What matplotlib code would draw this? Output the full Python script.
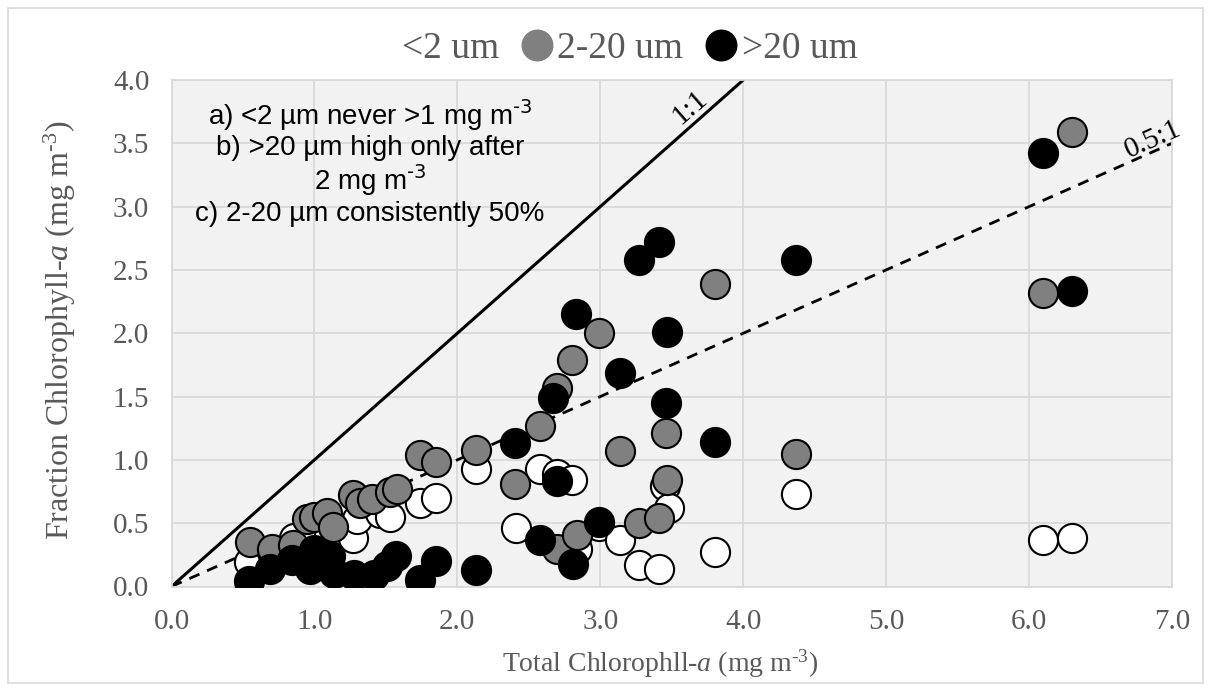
import matplotlib
matplotlib.use("Agg")
import matplotlib.pyplot as plt
from matplotlib.lines import Line2D
from matplotlib.patches import Rectangle

plt.rcParams["font.family"] = ["Liberation Serif", "DejaVu Serif"]
plt.rcParams["mathtext.fontset"] = "custom"
plt.rcParams["mathtext.rm"] = "Liberation Serif"
plt.rcParams["mathtext.it"] = "Liberation Serif:italic"

# <2 um fraction
x_small = [0.54, 0.70, 0.86, 1.00, 1.10, 1.27, 1.30, 1.46, 1.53, 1.74, 1.85, 2.13, 2.41,
           2.58, 2.70, 2.80, 2.84, 2.99, 3.14, 3.27, 3.41, 3.45, 3.48, 3.80, 4.37, 6.10, 6.30]
y_small = [0.19, 0.27, 0.38, 0.35, 0.40, 0.38, 0.53, 0.58, 0.55, 0.66, 0.70, 0.93, 0.46,
           0.93, 0.89, 0.84, 0.30, 0.48, 0.37, 0.17, 0.14, 0.79, 0.62, 0.27, 0.73, 0.37, 0.38]

# 2-20 um fraction
x_mid = [0.55, 0.70, 0.85, 0.95, 1.00, 1.09, 1.13, 1.27, 1.32, 1.40, 1.53, 1.58, 1.74, 1.85,
         2.13, 2.40, 2.58, 2.70, 2.70, 2.80, 2.84, 2.99, 3.14, 3.27, 3.41, 3.46, 3.47, 3.80,
         4.37, 6.10, 6.30]
y_mid = [0.35, 0.30, 0.33, 0.53, 0.55, 0.58, 0.47, 0.72, 0.66, 0.69, 0.75, 0.77, 1.04, 0.98,
         1.08, 0.81, 1.27, 1.57, 0.30, 1.79, 0.41, 2.00, 1.07, 0.50, 0.54, 1.21, 0.84, 2.39,
         1.05, 2.32, 3.59]

# >20 um fraction
x_big = [0.54, 0.69, 0.84, 1.00, 0.97, 1.11, 1.14, 1.28, 1.42, 1.51, 1.57, 1.74, 1.85, 2.13,
         2.40, 2.58, 2.67, 2.70, 2.81, 2.83, 2.99, 3.14, 3.27, 3.41, 3.46, 3.47, 3.80, 4.37,
         6.10, 6.30]
y_big = [0.04, 0.14, 0.21, 0.29, 0.14, 0.24, 0.11, 0.09, 0.09, 0.16, 0.24, 0.05, 0.20, 0.13,
         1.13, 0.37, 1.49, 0.83, 0.18, 2.15, 0.51, 1.69, 2.58, 2.72, 1.45, 2.01, 1.14, 2.58,
         3.42, 2.33]

notes = ["a) <2 µm never >1 mg m$^{\u2010 3}$",
         "b) >20 µm high only after",
         "2 mg m$^{\u2010 3}$",
         "c) 2-20 µm consistently 50%"]

W, H = 1211, 691
L, R, T, B = 171.5, 1172, 80, 586.5
fig = plt.figure(figsize=(W / 100, H / 100), dpi=100)
ax = fig.add_axes([L / W, 1 - B / H, (R - L) / W, (B - T) / H])
ax.set_facecolor("#f2f2f2")
fig.patches.append(Rectangle((8 / W, 8 / H), (W - 16) / W, (H - 16) / H,
                             transform=fig.transFigure, fill=False,
                             edgecolor="#d9d9d9", linewidth=1.2))

ax.set_xlim(0, 7)
ax.set_ylim(0, 4)
ax.set_xticks(range(0, 8))
ax.set_yticks([i * 0.5 for i in range(9)])
ax.set_xticklabels([f"{v:.1f}" for v in range(0, 8)])
ax.set_yticklabels([f"{i * 0.5:.1f}" for i in range(9)])
ax.tick_params(length=0, labelsize=21, labelcolor="#595959", pad=16)
ax.grid(True, color="#d9d9d9", linewidth=1.3)
ax.set_axisbelow(True)
for s in ax.spines.values():
    s.set_color("#d9d9d9")
    s.set_linewidth(1.3)

# reference lines
ax.plot([0, 4], [0, 4], color="black", linewidth=2.2, zorder=2)
ax.plot([0, 7], [0, 3.5], color="black", linewidth=2.0, linestyle=(0, (4, 3)), zorder=2)
ax.text(3.63, 3.78, "1:1", fontsize=21, rotation=41, ha="center", va="center", zorder=5)
ax.text(6.87, 3.53, "0.5:1", fontsize=21, rotation=24, ha="center", va="center",
        clip_on=False, zorder=5)

ms = 440
ax.scatter(x_small, y_small, s=ms, c="white", edgecolors="black", linewidths=1.5, zorder=3)
ax.scatter(x_mid, y_mid, s=ms, c="#808080", edgecolors="black", linewidths=1.5, zorder=3)
ax.scatter(x_big, y_big, s=ms, c="black", edgecolors="black", linewidths=1.5, zorder=3)

note_y = [115, 148, 180, 214]
for line, py in zip(notes, note_y):
    ax.text((370 - L) / ((R - L) / 7), (B - py) / ((B - T) / 4), line,
            family=["Liberation Sans", "DejaVu Sans"], math_fontfamily="dejavusans",
            fontsize=20, ha="center", va="center", zorder=6)

fig.text(60 / W, 1 - 330 / H, "Fraction Chlorophyll-$a$ (mg m$^{\u2010 3}$)", rotation=90,
         fontsize=23, color="#595959", ha="center", va="center")
fig.text(660 / W, 1 - 664 / H, "Total Chlorophll-$a$ (mg m$^{\u2010 3}$)",
         fontsize=20, color="#595959", ha="center", va="center")

handles = [Line2D([], [], marker="o", linestyle="none", markersize=22,
                  markerfacecolor="white", markeredgecolor="white"),
           Line2D([], [], marker="o", linestyle="none", markersize=22,
                  markerfacecolor="#808080", markeredgecolor="#808080"),
           Line2D([], [], marker="o", linestyle="none", markersize=22,
                  markerfacecolor="black", markeredgecolor="black")]
fig.legend(handles, ["<2 um", "2-20 um", ">20 um"], loc="center", ncol=3,
           bbox_to_anchor=(609 / W, 1 - 49 / H), frameon=False, fontsize=27,
           handletextpad=0.0, columnspacing=0.45, handlelength=1.1, labelcolor="#595959")

fig.savefig("out.png", dpi=100)
